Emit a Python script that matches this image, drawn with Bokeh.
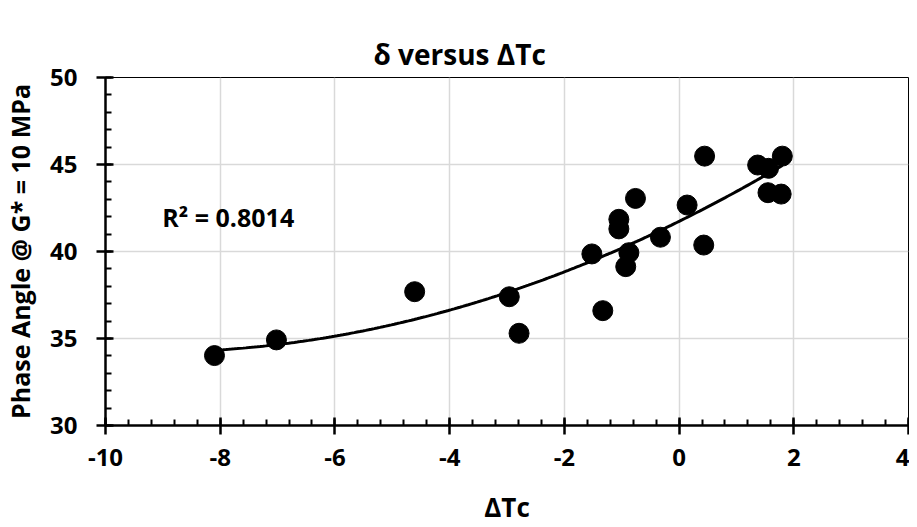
import numpy as np
from bokeh.plotting import figure
from bokeh.models import Range1d, SingleIntervalTicker, FixedTicker, LinearAxis, Label, Title
from bokeh.embed import file_html
from bokeh.resources import INLINE

# Data
delta_tc = [-8.10, -7.02, -4.61, -2.96, -2.79, -1.52, -1.33, -1.05, -1.05,
            -0.875, -0.93, -0.76, -0.325, 0.14, 0.445, 0.43, 1.37, 1.56,
            1.55, 1.78, 1.80]
phase_angle = [34.02, 34.92, 37.69, 37.40, 35.30, 39.86, 36.60, 41.85, 41.30,
               39.93, 39.13, 43.05, 40.82, 42.67, 45.48, 40.37, 44.97, 44.78,
               43.38, 43.30, 45.48]
x_ticks = [-10, -8, -6, -4, -2, 0, 2, 4]
y_ticks = [30, 35, 40, 45, 50]
title_text = "\u03b4 versus \u0394Tc"
x_label = "\u0394Tc"
y_label = "Phase Angle @ G* = 10 MPa"
r2_text = "R\u00b2 = 0.8014"

FONT = "Open Sans"

# second-order polynomial trendline fitted to the data
coef = np.polyfit(delta_tc, phase_angle, 2)
xs = np.linspace(min(delta_tc), max(delta_tc), 200)
ys = np.polyval(coef, xs)

W, H = 909, 527
p = figure(width=W, height=H, output_backend="svg", toolbar_location=None,
           x_range=Range1d(x_ticks[0], x_ticks[-1]),
           y_range=Range1d(y_ticks[0], y_ticks[-1]),
           min_border_left=104, min_border_right=W - 908,
           min_border_top=77, min_border_bottom=H - 426)
p.title.text = ""

xa = p.below[0]
ya = p.left[0]

# invisible spacer between the frame and the title
spacer = LinearAxis(ticker=FixedTicker(ticks=[], minor_ticks=[]),
                    axis_line_color=None, major_tick_line_color=None,
                    minor_tick_line_color=None, major_tick_out=29,
                    major_tick_in=0, minor_tick_out=0, minor_tick_in=0,
                    major_label_text_font_size="0px", major_label_standoff=0)
p.add_layout(spacer, "above")

chart_title = Title(text=title_text, text_font=FONT, text_font_style="bold",
                    text_font_size="28px", text_color="black", align="left",
                    offset=268, vertical_align="bottom", standoff=10)
p.add_layout(chart_title, "above")

p.outline_line_color = "black"
p.outline_line_width = 1

xa.ticker = SingleIntervalTicker(interval=2, num_minor_ticks=5)
ya.ticker = SingleIntervalTicker(interval=5, num_minor_ticks=5)
xa.major_label_overrides = {t: str(t) for t in x_ticks}

for ax in (xa, ya):
    ax.axis_line_color = "black"
    ax.axis_line_width = 2.5
    ax.major_tick_line_color = "black"
    ax.major_tick_line_width = 2.5
    ax.major_tick_in = 8
    ax.major_tick_out = 9
    ax.minor_tick_line_color = "black"
    ax.minor_tick_line_width = 2
    ax.minor_tick_in = 6
    ax.minor_tick_out = 0
    ax.major_label_text_font = FONT
    ax.major_label_text_font_style = "bold"
    ax.major_label_text_font_size = "24px"
    ax.major_label_text_color = "black"
    ax.axis_label_text_font = FONT
    ax.axis_label_text_font_style = "bold"
    ax.axis_label_text_color = "black"

xa.axis_label = x_label
ya.axis_label = y_label
xa.axis_label_text_font_size = "26px"
ya.axis_label_text_font_size = "25px"
xa.major_label_standoff = 14
ya.major_label_standoff = 19
xa.axis_label_standoff = 20
ya.axis_label_standoff = 10

p.xgrid.grid_line_color = "#d9d9d9"
p.ygrid.grid_line_color = "#d9d9d9"
p.xgrid.grid_line_width = 1.5
p.ygrid.grid_line_width = 1.5

p.line(xs, ys, line_color="black", line_width=3)
p.scatter(delta_tc, phase_angle, size=20, fill_color="black", line_color="black")

p.add_layout(Label(x=-7.86, y=41.98, text=r2_text, text_font=FONT,
                   text_font_style="bold", text_font_size="25px",
                   text_align="center", text_baseline="middle", text_color="black"))

open("out.html", "w").write(file_html(p, INLINE))
